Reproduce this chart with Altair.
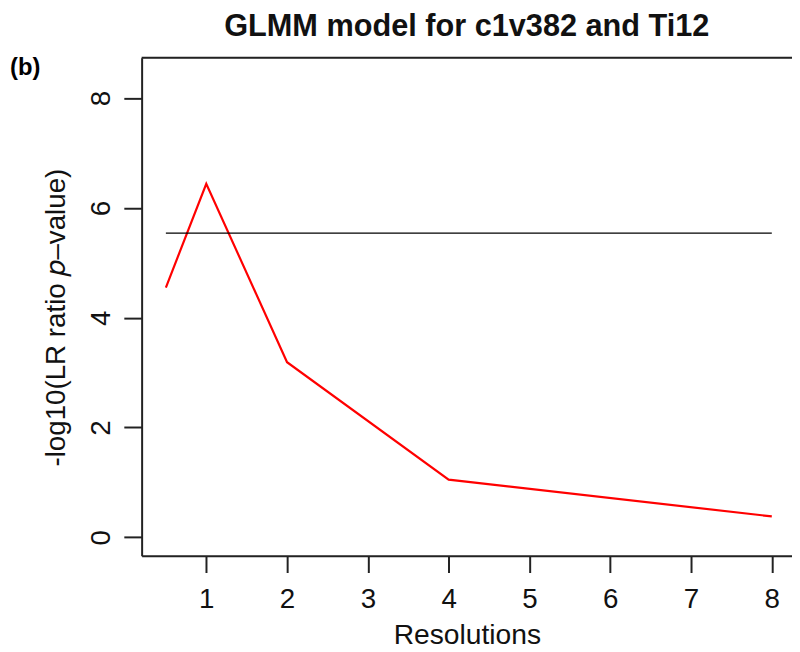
import altair as alt
import pandas as pd

# data
resolutions = [0.5, 1, 2, 4, 8]
neglog10_p = [4.55, 6.44, 3.19, 1.05, 0.38]
threshold = 5.54
thr_from = 0.5
thr_to = 8
x_ticks = [1, 2, 3, 4, 5, 6, 7, 8]
y_ticks = [0, 2, 4, 6, 8]

W = 657
H = 503
FONT = "Liberation Sans"

df = pd.DataFrame({"res": resolutions, "p": neglog10_p})
thr = pd.DataFrame({"x": [thr_from], "x2": [thr_to], "y": [threshold]})

xscale = alt.Scale(domain=[0.2, 8.25], nice=False, zero=False)
yscale = alt.Scale(domain=[-0.336, 8.736], nice=False, zero=False)

line = alt.Chart(df).mark_line(color="#ff0000", strokeWidth=2.2).encode(
    x=alt.X(
        "res:Q",
        scale=xscale,
        axis=alt.Axis(
            values=x_ticks,
            title="Resolutions",
            format="d",
            grid=False,
            tickSize=17,
            tickWidth=2,
            tickColor="#222222",
            domainWidth=2,
            domainColor="#222222",
            labelFontSize=28,
            labelColor="#111111",
            labelPadding=13,
            labelFont=FONT,
            titleFont=FONT,
            titleFontSize=28.5,
            titleFontWeight="normal",
            titleColor="#111111",
            titleBaseline="alphabetic",
            titleY=89,
        ),
    ),
    y=alt.Y(
        "p:Q",
        scale=yscale,
        axis=alt.Axis(
            values=y_ticks,
            title="-log10(LR ratio 𝑝–value)",
            format="d",
            grid=False,
            tickSize=18,
            tickWidth=2,
            tickColor="#222222",
            domainWidth=2,
            domainColor="#222222",
            labelFontSize=28,
            labelColor="#111111",
            labelAngle=270,
            labelAlign="center",
            labelBaseline="bottom",
            labelPadding=8,
            labelFont=FONT,
            titleFont=FONT,
            titleFontSize=28,
            titleFontWeight="normal",
            titleColor="#111111",
            titleAngle=270,
            titleBaseline="alphabetic",
            titleX=-78,
            titleY=262,
        ),
    ),
)

rule = alt.Chart(thr).mark_rule(color="#000000", strokeWidth=1.3).encode(
    x="x:Q", x2="x2:Q", y="y:Q"
)

top_border = alt.Chart(thr).mark_rule(color="#222222", strokeWidth=2).encode(
    x=alt.value(0), x2=alt.value(W), y=alt.value(0)
)

panel_label = alt.Chart(thr).mark_text(
    text="(b)", font=FONT, fontSize=24, fontWeight="bold", align="left", baseline="alphabetic"
).encode(x=alt.value(-133), y=alt.value(17))

chart = (
    alt.layer(line, rule, top_border, panel_label)
    .properties(
        width=W,
        height=H,
        autosize=alt.AutoSizeParams(type="none"),
        padding={"left": 135, "top": 47, "right": 0, "bottom": 94},
        title=alt.TitleParams(
            "GLMM model for c1v382 and Ti12",
            font=FONT,
            fontSize=31,
            fontWeight="bold",
            color="#111111",
            anchor="middle",
            baseline="alphabetic",
            offset=20,
            dy=31,
        ),
    )
    .configure_view(stroke=None)
    .configure(background="white")
)

chart.save("out.html", embed_options={"renderer": "svg", "actions": False})
